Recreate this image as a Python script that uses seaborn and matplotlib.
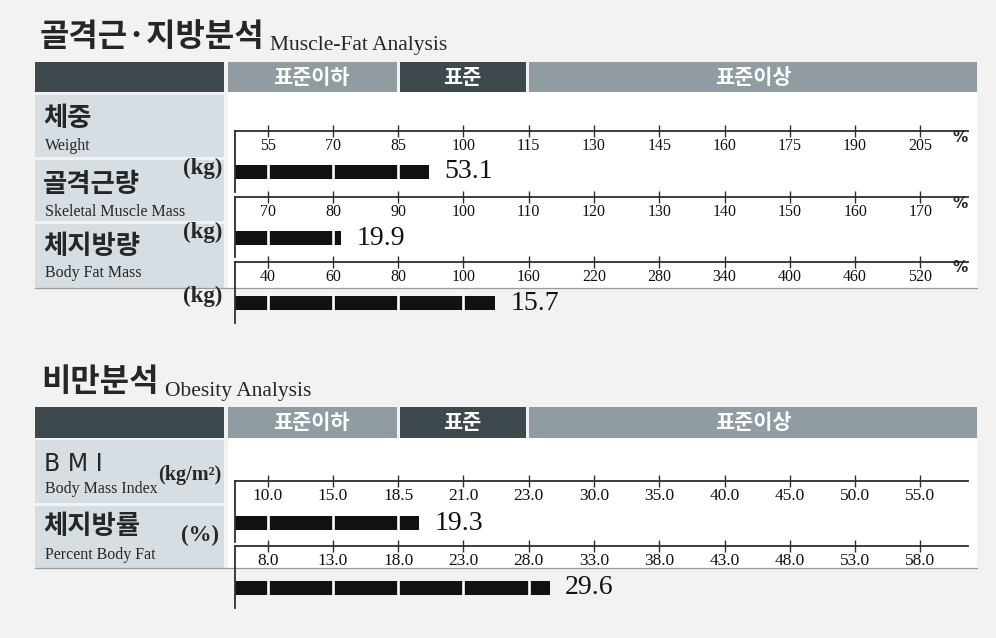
import numpy as np
import matplotlib.pyplot as plt
import matplotlib.transforms as mtransforms
import seaborn as sns
from matplotlib.patches import Rectangle

sns.set_style('white')
plt.rcParams['font.family'] = ['Noto Sans CJK KR', 'DejaVu Sans']

W, H = 996, 638

# scale ticks of each row
weight_ticks = [55, 70, 85, 100, 115, 130, 145, 160, 175, 190, 205]
smm_ticks = [70, 80, 90, 100, 110, 120, 130, 140, 150, 160, 170]
bfm_ticks = [40, 60, 80, 100, 160, 220, 280, 340, 400, 460, 520]
bmi_ticks = [10.0, 15.0, 18.5, 21.0, 23.0, 30.0, 35.0, 40.0, 45.0, 50.0, 55.0]
pbf_ticks = [8.0, 13.0, 18.0, 23.0, 28.0, 33.0, 38.0, 43.0, 48.0, 53.0, 58.0]

# bar levels (on each row's scale) and printed values
weight_level = 92.0
smm_level = 81.3
bfm_level = 129.0
bmi_level = 19.3
pbf_level = 29.6
weight_value = '53.1'
smm_value = '19.9'
bfm_value = '15.7'
bmi_value = '19.3'
pbf_value = '29.6'

band_labels = ['표준이하', '표준', '표준이상']

SERIF = 'Liberation Serif'
KR = 'Noto Sans CJK KR'


def box(x0, y0, x1, y1):
    return [x0 / W, 1 - y1 / H, (x1 - x0) / W, (y1 - y0) / H]


fig = plt.figure(figsize=(W / 100, H / 100), dpi=100, facecolor='#f2f2f2')
bg = fig.add_axes([0, 0, 1, 1])
bg.set_xlim(0, W)
bg.set_ylim(H, 0)
bg.axis('off')
bg.set_facecolor('none')


def rect(x0, y0, x1, y1, color):
    bg.add_patch(Rectangle((x0, y0), x1 - x0, y1 - y0, color=color, lw=0))


def header(y0, y1):
    dark, light = '#3e494e', '#909ca2'
    rect(35, y0, 224, y1, dark)
    rect(228, y0, 397, y1, light)
    rect(400, y0, 526, y1, dark)
    rect(529, y0, 977, y1, light)
    yc = (y0 + y1) / 2
    for xc, lab in zip([311, 462, 753], band_labels):
        bg.text(xc, yc, lab, color='white', fontsize=15, fontweight='bold',
                ha='center', va='center', family=KR)


# section 1: Muscle-Fat Analysis
bg.text(40, 37, '골격근·지방분석', fontsize=23, fontweight='bold', va='center', family=KR)
bg.text(270, 50, 'Muscle-Fat Analysis', fontsize=15.5, va='baseline', family=SERIF)
header(62, 92)
rect(228, 92, 977, 288, 'white')
panel = '#d7dee3'
rect(35, 95, 224, 157, panel)
rect(35, 160, 224, 221, panel)
rect(35, 224, 224, 288, panel)
bg.plot([35, 977], [288, 288], color='#9a9a9a', lw=0.9)

bg.text(43, 118, '체중', fontsize=19, fontweight='bold', va='center', family=KR)
bg.text(45, 146, 'Weight', fontsize=11.5, va='center', family=SERIF)
bg.text(43, 184, '골격근량', fontsize=19, fontweight='bold', va='center', family=KR)
bg.text(45, 212, 'Skeletal Muscle Mass', fontsize=11.5, va='center', family=SERIF)
bg.text(43, 246, '체지방량', fontsize=19, fontweight='bold', va='center', family=KR)
bg.text(45, 273, 'Body Fat Mass', fontsize=11.5, va='center', family=SERIF)
for yk in [168, 232, 296]:
    bg.text(222, yk, '(kg)', fontsize=16.5, fontweight='bold', ha='right', va='center', family=SERIF)

# section 2: Obesity Analysis
bg.text(41, 382, '비만분석', fontsize=23, fontweight='bold', va='center', family=KR)
bg.text(165, 396, 'Obesity Analysis', fontsize=15.5, va='baseline', family=SERIF)
header(407, 438)
rect(228, 438, 977, 568, 'white')
rect(35, 440, 224, 503, panel)
rect(35, 506, 224, 568, panel)
bg.plot([35, 977], [568, 568], color='#9a9a9a', lw=0.9)

bg.text(44, 464, 'B M I', fontsize=17, va='center', family='DejaVu Sans')
bg.text(221, 475, '(kg/m²)', fontsize=14.5, fontweight='bold', ha='right', va='center', family=SERIF)
bg.text(45, 489, 'Body Mass Index', fontsize=11.5, va='center', family=SERIF)
bg.text(43, 527, '체지방률', fontsize=19, fontweight='bold', va='center', family=KR)
bg.text(219, 535, '(%)', fontsize=16.5, fontweight='bold', ha='right', va='center', family=SERIF)
bg.text(45, 555, 'Percent Body Fat', fontsize=11.5, va='center', family=SERIF)


BAR_H = 14.0
X_RIGHT = 11.23


def draw_row(y_line, y_bar, y_bottom, ticks, level, value, name, fmt, pct, tick_fs):
    ax = fig.add_axes(box(235, y_line, 968, y_bottom))
    ax.set_facecolor('none')
    end = np.interp(level, ticks, np.arange(len(ticks))) + 0.5
    sns.barplot(x=[end], y=[name], orient='h', color='#111111', width=0.8,
                saturation=1, linewidth=0, ax=ax)
    u = BAR_H / 0.8  # pixels per y unit
    ax.set_xlim(0, X_RIGHT)
    ax.set_ylim(-(y_bottom - y_bar) / u, (y_bar - y_line) / u)
    for s in ['right', 'bottom']:
        ax.spines[s].set_visible(False)
    for s in ['top', 'left']:
        ax.spines[s].set_linewidth(1.3)
        ax.spines[s].set_color('#2e2e2e')
    tpos = np.arange(len(ticks)) + 0.5
    ax.set_xticks(tpos)
    ax.tick_params(axis='x', bottom=False, top=True, labelbottom=False, labeltop=False,
                   direction='inout', length=8, width=1, colors='#2e2e2e')
    ax.set_yticks([])
    ax.set_xlabel('')
    ax.set_ylabel('')
    for x, t in zip(tpos, ticks):
        ax.text(x, (y_bar - (y_line + 15)) / u, fmt.format(t), ha='center', va='center',
                fontsize=tick_fs, family=SERIF, color='#111111')
    gaps = tpos[tpos < end - 0.02]
    ax.vlines(gaps, -0.5, 0.5, color='white', lw=1.9)
    ax.annotate(value, (end, 0), xytext=(11, 0), textcoords='offset points',
                va='center', ha='left', fontsize=20, family=SERIF, color='#111111')
    if pct:
        tr = mtransforms.blended_transform_factory(ax.transAxes, ax.transData)
        ax.text(1.0, (y_bar - (y_line + 6)) / u, '%', transform=tr, ha='right',
                va='center', fontsize=11, fontweight='bold', family='DejaVu Sans')


draw_row(131, 172, 192, weight_ticks, weight_level, weight_value, 'Weight', '{:d}', True, 11.5)
draw_row(197, 238, 257, smm_ticks, smm_level, smm_value, 'SMM', '{:d}', True, 11.5)
draw_row(262, 303, 323, bfm_ticks, bfm_level, bfm_value, 'BFM', '{:d}', True, 11.5)
draw_row(481, 523, 542, bmi_ticks, bmi_level, bmi_value, 'BMI', '{:.1f}', False, 12.5)
draw_row(546, 588, 608, pbf_ticks, pbf_level, pbf_value, 'PBF', '{:.1f}', False, 12.5)

fig.savefig('out.png', dpi=100, facecolor=fig.get_facecolor())
